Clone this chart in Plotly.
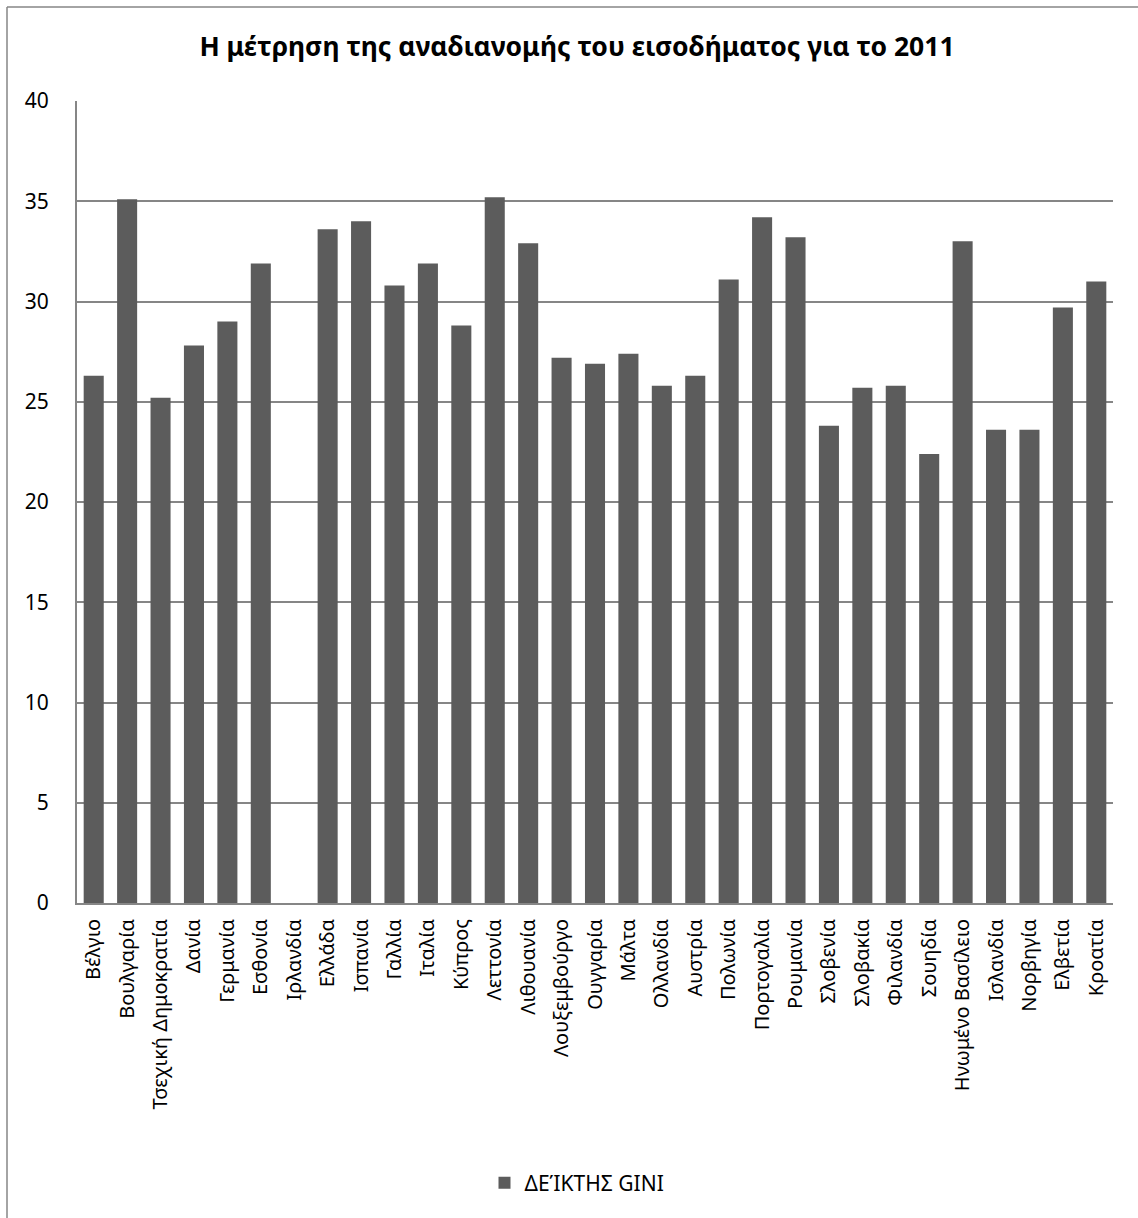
import plotly.graph_objects as go

countries = ["Βέλγιο", "Βουλγαρία", "Τσεχική Δημοκρατία", "Δανία", "Γερμανία", "Εσθονία",
             "Ιρλανδία", "Ελλάδα", "Ισπανία", "Γαλλία", "Ιταλία", "Κύπρος", "Λεττονία",
             "Λιθουανία", "Λουξεμβούργο", "Ουγγαρία", "Μάλτα", "Ολλανδία", "Αυστρία",
             "Πολωνία", "Πορτογαλία", "Ρουμανία", "Σλοβενία", "Σλοβακία", "Φιλανδία",
             "Σουηδία", "Ηνωμένο Βασίλειο", "Ισλανδία", "Νορβηγία", "Ελβετία", "Κροατία"]
gini = [26.3, 35.1, 25.2, 27.8, 29.0, 31.9,
        None, 33.6, 34.0, 30.8, 31.9, 28.8, 35.2,
        32.9, 27.2, 26.9, 27.4, 25.8, 26.3,
        31.1, 34.2, 33.2, 23.8, 25.7, 25.8,
        22.4, 33.0, 23.6, 23.6, 29.7, 31.0]
series_name = "ΔΕΊΚΤΗΣ GINI"
title_text = "Η μέτρηση της αναδιανομής του εισοδήματος για το 2011"
y_ticks = [0, 5, 10, 15, 20, 25, 30, 35, 40]

FONT = "Noto Sans"
W, H = 1138, 1218
L, R, T, B = 77, 25, 101, 315
pw, ph = W - L - R, H - T - B

fig = go.Figure()
fig.add_trace(go.Bar(
    x=countries, y=gini, name=series_name,
    marker=dict(color="#5c5c5c", line=dict(width=0)),
    showlegend=True,
))

def px_x(p):
    return (p - L) / pw

def px_y(p):
    return (H - B - p) / ph

fig.update_layout(
    width=W, height=H,
    margin=dict(l=L, r=R, t=T, b=B, autoexpand=False),
    paper_bgcolor="white", plot_bgcolor="white",
    font=dict(family=FONT, color="#000000", size=20),
    bargap=0.4,
    title=dict(text="<b>" + title_text + "</b>", x=577 / W, xanchor="center",
               xref="container",
               y=1 - 47 / H, yanchor="middle", font=dict(size=26.5, family=FONT)),
    xaxis=dict(
        type="category", tickangle=-90, showgrid=False, showline=True,
        linecolor="#868686", linewidth=2, ticks="", ticklabelstandoff=6,
        tickfont=dict(size=20),
    ),
    yaxis=dict(
        range=[0, 40], tickvals=y_ticks, showgrid=True, gridcolor="#868686",
        gridwidth=1.5, showline=True, linecolor="#868686", linewidth=2,
        ticks="", ticklabelstandoff=22, zeroline=False, tickfont=dict(size=21),
    ),
    legend=dict(orientation="h", x=px_x(577), xanchor="center", y=px_y(1183), yanchor="middle",
                font=dict(size=21), itemwidth=30),
    shapes=[
        dict(type="line", xref="paper", yref="paper", x0=px_x(7), x1=px_x(1200),
             y0=px_y(7), y1=px_y(7), line=dict(color="#868686", width=1.5)),
        dict(type="line", xref="paper", yref="paper", x0=px_x(7), x1=px_x(7),
             y0=px_y(7), y1=px_y(1300), line=dict(color="#868686", width=1.5)),
    ],
)

fig.write_html("out.html")
